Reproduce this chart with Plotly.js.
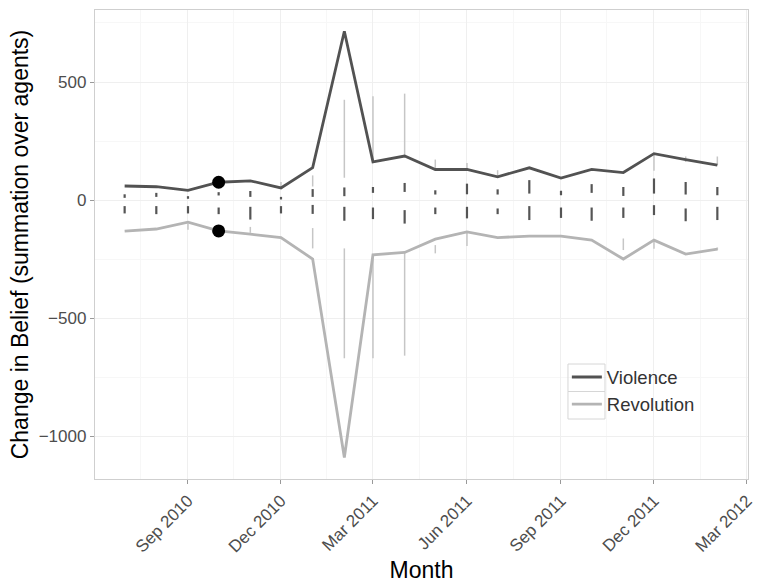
<!DOCTYPE html>
<html>
<head>
<meta charset="utf-8">
<script src="https://cdn.plot.ly/plotly-3.0.1.min.js"></script>
<style>html,body{margin:0;padding:0;background:#fff}#chart{width:757px;height:583px}</style>
</head>
<body>
<div id="chart"></div>
<script>
// ---- data ----
const months = ['2010-07-01','2010-08-01','2010-09-01','2010-10-01','2010-11-01','2010-12-01',
                '2011-01-01','2011-02-01','2011-03-01','2011-04-01','2011-05-01','2011-06-01',
                '2011-07-01','2011-08-01','2011-09-01','2011-10-01','2011-11-01','2011-12-01',
                '2012-01-01','2012-02-01'];
const violence   = [60, 57, 42, 76, 82, 52, 138, 715, 162, 187, 130, 130, 99, 137, 94, 130, 117, 197, 172, 148];
const revolution = [-131, -122, -93, -130, -144, -158, -249, -1089, -231, -221, -165, -134, -158, -152, -152, -169, -249, -169, -228, -207];

// dark vertical segments (above and below zero)
const darkUpLo = [10, 14, 6, 20, 14, 3, 14, 17, 31, 35, 24, 25, 24, 28, 21, 31, 18, 28, 24, 21];
const darkUpHi = [25, 31, 17, 34, 39, 14, 47, 54, 56, 73, 42, 70, 46, 85, 40, 68, 56, 92, 77, 56];
const darkDnLo = [-56, -59, -56, -59, -82, -56, -58, -87, -80, -99, -59, -77, -59, -84, -75, -87, -75, -63, -89, -84];
const darkDnHi = [-25, -25, -25, -31, -28, -25, -20, -28, -31, -42, -31, -28, -35, -25, -31, -31, -31, -21, -35, -28];

// light vertical segments (null = not visible)
const lightUpLo = [null, null, null, null, null, 52, 58, 95, 162, 187, 130, 130, 99, null, null, null, null, 125, 162, 148];
const lightUpHi = [null, null, null, null, null, 77, 105, 425, 440, 451, 172, 157, 127, null, null, null, null, 197, 185, 185];
const lightDnLo = [null, null, -125, null, -138, null, -204, -669, -669, -658, -225, -194, null, null, null, null, -211, -205, null, -212];
const lightDnHi = [null, null, -100, null, -113, null, -118, -204, -232, -222, -190, -134, null, null, null, null, -162, -169, null, -200];

const highlightMonth = '2010-10-01';

const xTickVals = ['2010-09-01','2010-12-01','2011-03-01','2011-06-01','2011-09-01','2011-12-01','2012-03-01'];
const xTickText = ['Sep 2010','Dec 2010','Mar 2011','Jun 2011','Sep 2011','Dec 2011','Mar 2012'];
const yTickVals = [-1000, -500, 0, 500];

// ---- build traces ----
function segs(lo, hi) {
  const x = [], y = [];
  for (let i = 0; i < months.length; i++) {
    if (lo[i] === null || hi[i] === null) continue;
    x.push(months[i], months[i], null);
    y.push(lo[i], hi[i], null);
  }
  return {x, y};
}
const segTrace = (s, color, width) => ({
  x: s.x, y: s.y, type: 'scatter', mode: 'lines', connectgaps: false,
  line: {color: color, width: width}, showlegend: false, hoverinfo: 'skip'
});

const lu = segs(lightUpLo, lightUpHi), ld = segs(lightDnLo, lightDnHi);
const du = segs(darkUpLo, darkUpHi), dd = segs(darkDnLo, darkDnHi);

const hi = months.indexOf(highlightMonth);

const traces = [
  segTrace(lu, '#c6c6c6', 1.5),
  segTrace(ld, '#c6c6c6', 1.5),
  segTrace(du, '#555555', 2.2),
  segTrace(dd, '#555555', 2.2),
  {x: months, y: violence, type: 'scatter', mode: 'lines', name: 'Violence',
   line: {color: '#525252', width: 2.8}},
  {x: months, y: revolution, type: 'scatter', mode: 'lines', name: 'Revolution',
   line: {color: '#b4b4b4', width: 2.8}},
  {x: [months[hi], months[hi]], y: [violence[hi], revolution[hi]], type: 'scatter', mode: 'markers',
   marker: {color: '#000', size: 13}, showlegend: false}
];

// legend key boxes (decoration, paper coords)
const keyBox = (y0, y1) => ({type: 'rect', xref: 'paper', yref: 'paper',
  x0: 0.7243, x1: 0.781, y0: y0, y1: y1, line: {color: '#d6d6d6', width: 1}, fillcolor: 'rgba(0,0,0,0)'});

const layout = {
  width: 757, height: 583,
  margin: {l: 95, r: 9, t: 10, b: 104},
  paper_bgcolor: '#fff', plot_bgcolor: '#fff',
  font: {family: 'Liberation Sans, Arial, sans-serif', color: '#4d4d4d'},
  xaxis: {
    type: 'date', range: ['2010-06-02', '2012-03-02'],
    tickmode: 'array', tickvals: xTickVals, ticktext: xTickText, tickangle: -45,
    tickfont: {size: 17, color: '#4d4d4d'},
    ticks: 'outside', ticklen: 4, tickcolor: '#999', tickwidth: 1,
    showgrid: true, gridcolor: '#efefef', gridwidth: 1,
    minor: {showgrid: true, gridcolor: '#f7f7f7', tickmode: 'array',
            tickvals: ['2010-07-17','2010-10-16','2011-01-15','2011-04-16','2011-07-17','2011-10-16','2012-01-16']},
    showline: true, mirror: true, linecolor: '#cfcfcf', linewidth: 1.2,
    zeroline: false,
    title: {text: 'Month', font: {size: 23, color: '#000'}, standoff: 6}
  },
  yaxis: {
    range: [-1180, 805],
    tickmode: 'array', tickvals: yTickVals,
    tickfont: {size: 17, color: '#4d4d4d'},
    ticks: 'outside', ticklen: 4, tickcolor: '#999', tickwidth: 1,
    showgrid: true, gridcolor: '#efefef', gridwidth: 1,
    minor: {showgrid: true, gridcolor: '#f7f7f7', dtick: 250},
    showline: true, mirror: true, linecolor: '#cfcfcf', linewidth: 1.2,
    zeroline: false,
    title: {text: 'Change in Belief (summation over agents)', font: {size: 23, color: '#000'}, standoff: 3}
  },
  legend: {
    x: 0.7226, y: 0.257, xanchor: 'left', yanchor: 'top',
    bgcolor: 'rgba(0,0,0,0)', borderwidth: 0,
    font: {size: 18.5, color: '#333'}
  },
  shapes: [keyBox(0.1866, 0.2452), keyBox(0.1279, 0.1866)],
  showlegend: true
};

Plotly.newPlot('chart', traces, layout, {displayModeBar: false, staticPlot: true});
</script>
</body>
</html>
